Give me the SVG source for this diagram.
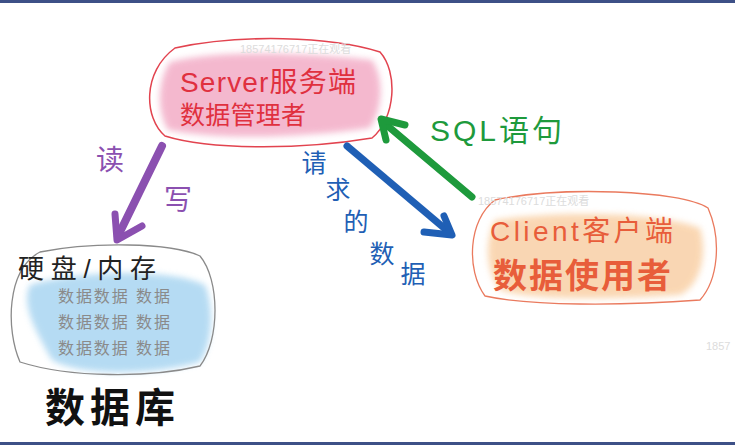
<svg xmlns="http://www.w3.org/2000/svg" width="735" height="445" viewBox="0 0 735 445">
<defs>
<style>
.t{font-family:"Liberation Sans","Noto Sans CJK SC",sans-serif;}
.wm{font-family:"Liberation Sans","Noto Sans CJK SC",sans-serif;font-size:11px;fill:#dcdcdc;}
.arrow{fill:none;stroke-linecap:round;stroke-linejoin:round;}
</style>
<filter id="soft" x="-10%" y="-10%" width="120%" height="120%"><feGaussianBlur stdDeviation="3"/></filter>
</defs>
<rect width="735" height="445" fill="#ffffff"/>
<rect x="0" y="0" width="735" height="3" fill="#3d5087"/>
<rect x="0" y="442" width="735" height="3" fill="#3d5087"/>

<g id="server">
<path d="M170,62 C215,50 300,52 372,60 C385,80 382,110 370,128 C300,138 220,140 168,130 C156,110 158,80 170,62 Z" fill="#f2a7c3" opacity="0.8" filter="url(#soft)"/>
<path d="M175,48 C240,34 330,36 380,52 C398,72 396,118 372,138 C300,150 210,150 165,136 C144,118 142,72 175,48 Z" fill="none" stroke="#e2434f" stroke-width="1.5"/>
<text class="t" x="180" y="92" font-size="28" fill="#e0303f" textLength="176">Server服务端</text>
<text class="t" x="180" y="124" font-size="25" fill="#e0303f" textLength="126">数据管理者</text>
</g>

<g id="database">
<path d="M30,285 C80,270 170,268 205,285 C215,310 212,345 200,362 C150,376 80,376 52,360 C38,335 20,305 30,285 Z" fill="#a9d5f1" opacity="0.85" filter="url(#soft)"/>
<path d="M40,252 C90,242 170,242 200,256 C220,280 220,340 200,366 C150,378 70,378 20,362 C6,330 6,270 40,252 Z" fill="none" stroke="#8a8a8a" stroke-width="1.3"/>
<text class="t" x="18" y="278" font-size="26" fill="#222" textLength="138">硬盘/内存</text>
<text class="t" x="58" y="302" font-size="16" fill="#8a8a8a" textLength="112">数据数据 数据</text>
<text class="t" x="58" y="328" font-size="16" fill="#8a8a8a" textLength="112">数据数据 数据</text>
<text class="t" x="58" y="354" font-size="16" fill="#8a8a8a" textLength="112">数据数据 数据</text>
<text class="t" x="45" y="422" font-size="40" font-weight="bold" fill="#111" textLength="130">数据库</text>
</g>

<g id="client">
<path d="M495,220 C560,210 660,212 700,228 C708,255 700,285 680,295 C600,300 530,300 500,290 C485,270 485,240 495,220 Z" fill="#f9d0a6" opacity="0.85" filter="url(#soft)"/>
<path d="M495,200 C560,186 680,190 708,208 C722,240 718,280 700,300 C620,306 530,306 485,296 C466,270 468,220 495,200 Z" fill="none" stroke="#ea7a5e" stroke-width="1.3"/>
<text class="t" x="490" y="241" font-size="28" fill="#e85d3a" textLength="183">Client客户端</text>
<text class="t" x="493" y="288" font-size="34" fill="#e85d3a" font-weight="bold" textLength="178">数据使用者</text>
</g>

<g id="connectors">
<g id="rw">
<path class="arrow" d="M162,146 L118,236" stroke="#8b50b0" stroke-width="8"/>
<path class="arrow" d="M115,214 L117,240 L142,226" stroke="#8b50b0" stroke-width="7"/>
<text class="t" x="110" y="170" font-size="28" fill="#8b50b0" text-anchor="middle">读</text>
<text class="t" x="178" y="210" font-size="28" fill="#8b50b0" text-anchor="middle">写</text>
</g>
<g id="req">
<path class="arrow" d="M347,146 L450,233" stroke="#1f5fb5" stroke-width="7"/>
<path class="arrow" d="M444,216 L452,235 L424,232" stroke="#1f5fb5" stroke-width="7"/>
<g class="t" fill="#1f5fb5" font-size="25" text-anchor="middle">
<text x="314" y="172">请</text>
<text x="338" y="199">求</text>
<text x="356" y="231">的</text>
<text x="382" y="263">数</text>
<text x="413" y="283">据</text>
</g>
</g>
<g id="sql">
<path class="arrow" d="M472,197 L383,122" stroke="#1e9a3c" stroke-width="7"/>
<path class="arrow" d="M405,125 L381,119 L386,140" stroke="#1e9a3c" stroke-width="7"/>
<text class="t" x="430" y="141" font-size="30" fill="#1e9a3c" textLength="132">SQL语句</text>
</g>
</g>

<g id="watermarks">
<text class="wm" x="240" y="53">18574176717正在观看</text>
<text class="wm" x="478" y="205">18574176717正在观看</text>
<text class="wm" x="706" y="350">1857</text>
</g>
</svg>
